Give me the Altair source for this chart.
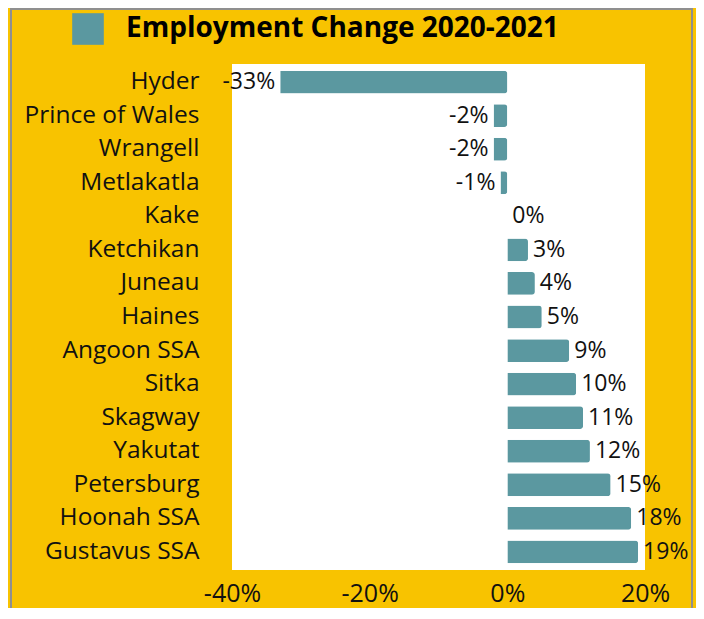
import altair as alt
import pandas as pd

places = ["Hyder", "Prince of Wales", "Wrangell", "Metlakatla", "Kake", "Ketchikan",
          "Juneau", "Haines", "Angoon SSA", "Sitka", "Skagway", "Yakutat",
          "Petersburg", "Hoonah SSA", "Gustavus SSA"]
change = [-0.33, -0.02, -0.02, -0.01, 0.0, 0.03, 0.04, 0.05, 0.09, 0.10, 0.11, 0.12,
          0.15, 0.18, 0.19]
series_name = "Employment Change 2020-2021"

df = pd.DataFrame({"place": places, "change": change, "series": series_name})

GOLD = "#F8C300"
TEAL = "#5B98A0"
FONT = "Open Sans"
MINUS_FIX = "replace(datum.label, '\u2212', '-')"

x_enc = alt.X("change:Q", scale=alt.Scale(domain=[-0.4, 0.2], nice=False),
              axis=alt.Axis(format=".0%", values=[-0.4, -0.2, 0, 0.2], title=None,
                            labelExpr=MINUS_FIX, labelFlush=False,
                            domain=False, ticks=False, grid=False, labelFontSize=25,
                            labelPadding=11, labelFont=FONT, labelColor="#111111"))
y_enc = alt.Y("place:N", sort=places,
              scale=alt.Scale(paddingInner=0.32, paddingOuter=0.2),
              axis=alt.Axis(title=None, domain=False, ticks=False, labelFontSize=24.5,
                            labelPadding=33, labelFont=FONT, labelColor="#111111",
                            labelLimit=400))

base = alt.Chart(df).transform_calculate(
    lbl="replace(format(datum.change, '.0%'), '\u2212', '-')"
)

bars = base.mark_bar(cornerRadiusEnd=3).encode(
    x=x_enc, y=y_enc,
    color=alt.Color("series:N", scale=alt.Scale(range=[TEAL]),
                    legend=alt.Legend(title=None, orient="none", legendX=-160, legendY=-51,
                                      symbolType="square", symbolSize=1000,
                                      symbolStrokeWidth=0, symbolOpacity=1,
                                      labelFontSize=28, labelFontWeight="bold",
                                      labelFont=FONT, labelColor="#000000",
                                      labelOffset=22, padding=0, labelLimit=600)),
)

neg_text = base.transform_filter(alt.datum.change < 0).mark_text(
    align="right", baseline="middle", dx=-5, fontSize=23, font=FONT, color="#111111"
).encode(x="change:Q", y=alt.Y("place:N", sort=places), text="lbl:N")

pos_text = base.transform_filter(alt.datum.change >= 0).mark_text(
    align="left", baseline="middle", dx=5, fontSize=23, font=FONT, color="#111111"
).encode(x="change:Q", y=alt.Y("place:N", sort=places), text="lbl:N")

frame = alt.Chart(pd.DataFrame({"k": [0]})).mark_rect(
    fill=None, stroke="#8F8F8F", strokeWidth=2, clip=False
).encode(x=alt.value(-221), x2=alt.value(460), y=alt.value(-55), y2=alt.value(620))

chart = alt.layer(frame, bars, neg_text, pos_text).properties(
    width=413, height=506,
    background=GOLD,
    padding={"left": 224, "top": 56, "right": 51, "bottom": 38},
    autosize=alt.AutoSizeParams(type="none"),
).configure_view(fill="white", stroke=None)

chart.save("out.html", embed_options={"renderer": "svg", "actions": False})
